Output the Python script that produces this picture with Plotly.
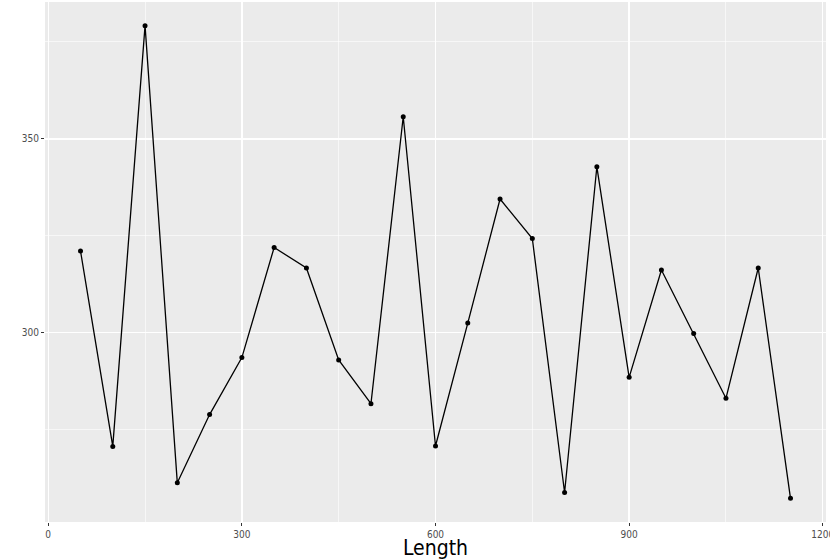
import plotly.graph_objects as go

lengths = [50, 100, 150, 200, 250, 300, 350, 400, 450, 500, 550, 600,
           650, 700, 750, 800, 850, 900, 950, 1000, 1050, 1100, 1150]
values = [321.1, 270.7, 379.2, 261.3, 278.9, 293.6, 322.0, 316.7, 293.0, 281.7, 355.7, 270.8,
          302.5, 334.5, 324.3, 258.8, 342.8, 288.5, 316.2, 299.8, 283.1, 316.7, 257.3]
x_ticks = [0, 300, 600, 900, 1200]
y_ticks = [300, 350]

FONT = "Liberation Sans Narrow, DejaVu Sans Condensed, Arial Narrow, Liberation Sans, sans-serif"

fig = go.Figure(go.Scatter(
    x=lengths, y=values, mode="lines+markers",
    line=dict(color="black", width=1.3),
    marker=dict(color="black", size=5),
    showlegend=False, hoverinfo="skip",
))

fig.update_layout(
    width=830, height=560,
    margin=dict(l=45, r=4, t=2, b=38, autoexpand=False),
    paper_bgcolor="white", plot_bgcolor="#EBEBEB",
    font=dict(family=FONT, color="#4D4D4D", size=10),
)
fig.update_xaxes(
    range=[-5, 1205], tickvals=x_ticks, ticktext=[str(v) for v in x_ticks],
    automargin=False, ticklabeloverflow="allow",
    showgrid=True, gridcolor="white", gridwidth=1.4,
    ticks="outside", ticklen=3, tickcolor="#333333", tickwidth=1,
    tickfont=dict(family=FONT, size=10, color="#4D4D4D"),
    minor=dict(tickvals=[150, 450, 750, 1050], showgrid=True, gridcolor="white", gridwidth=0.6, ticks=""),
    zeroline=False, showline=False,
    title=dict(text="Length", font=dict(family=FONT, size=21, color="black"), standoff=3),
)
fig.update_yaxes(
    range=[251.2, 385.3], tickvals=y_ticks, ticktext=[str(v) for v in y_ticks],
    automargin=False,
    showgrid=True, gridcolor="white", gridwidth=1.4,
    ticks="outside", ticklen=3, tickcolor="#333333", tickwidth=1,
    tickfont=dict(family=FONT, size=10, color="#4D4D4D"),
    minor=dict(tickvals=[275, 325, 375], showgrid=True, gridcolor="white", gridwidth=0.6, ticks=""),
    zeroline=False, showline=False,
)

fig.write_html(
    "out.html",
    config={"displayModeBar": False, "staticPlot": True},
    post_script="document.body.style.margin='0';document.body.style.overflow='hidden';",
)
